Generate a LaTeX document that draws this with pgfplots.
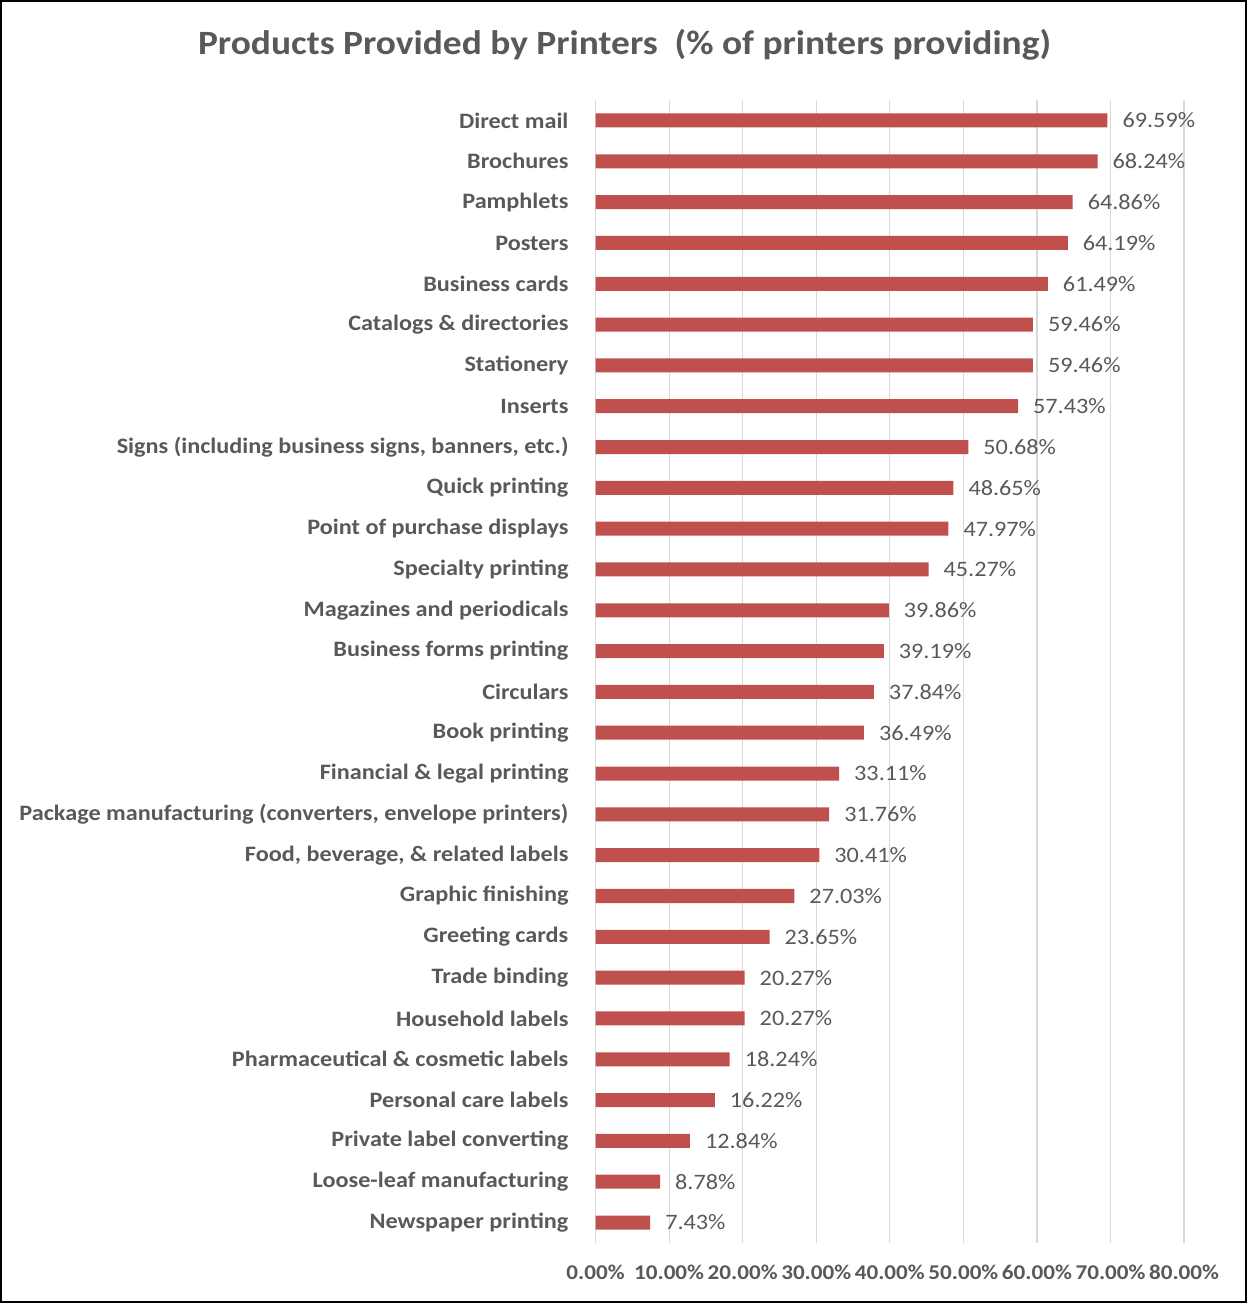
\documentclass[border=0pt]{standalone}
\usepackage{fontspec}
\setmainfont{Carlito}[FakeStretch=1.1]
\usepackage{pgfplots}
\pgfplotsset{compat=1.18}
\usetikzlibrary{calc}
\definecolor{barred}{HTML}{C0504D}
\definecolor{txtgray}{HTML}{595959}
\definecolor{gridgray}{HTML}{D9D9D9}
\begin{document}
\begin{tikzpicture}
\begin{axis}[
  scale only axis,
  width=294pt, height=570.9pt,
  xbar, bar width=7pt,
  xmin=0, xmax=80,
  ymin=-0.5, ymax=27.5,
  xtick={0,10,...,80},
  ytick={0,...,27},
  axis line style={draw=none},
  major tick length=0pt,
  xmajorgrids, grid style={gridgray, line width=0.6pt},
  /pgf/number format/assume math mode=true,
  xticklabel={\pgfmathprintnumber[fixed,fixed zerofill,precision=2]{\tick}\%},
  xticklabel style={font=\fontsize{10.5}{12}\selectfont\bfseries, text=txtgray, yshift=-7.5pt},
  yticklabel style={font=\fontsize{11}{12}\selectfont\bfseries, text=txtgray, xshift=-10pt},
  yticklabels={{Newspaper printing},{Loose-leaf manufacturing},{Private label converting},{Personal care labels},{Pharmaceutical \& cosmetic labels},{Household labels},{Trade binding},{Greeting cards},{Graphic finishing},{Food, beverage, \& related labels},{Package manufacturing (converters, envelope printers)},{Financial \& legal printing},{Book printing},{Circulars},{Business forms printing},{Magazines and periodicals},{Specialty printing},{Point of purchase displays},{Quick printing},{Signs (including business signs, banners, etc.)},{Inserts},{Stationery},{Catalogs \& directories},{Business cards},{Posters},{Pamphlets},{Brochures},{Direct mail}},
  nodes near coords={\pgfmathprintnumber[fixed,fixed zerofill,precision=2]{\pgfplotspointmeta}\%},
  nodes near coords style={font=\fontsize{11}{12}\selectfont, text=txtgray, anchor=west, xshift=4pt},
  clip=false,
]
\addplot[fill=barred, draw=none] coordinates {
(7.43,0) (8.78,1) (12.84,2) (16.22,3) (18.24,4) (20.27,5) (20.27,6) (23.65,7)
(27.03,8) (30.41,9) (31.76,10) (33.11,11) (36.49,12) (37.84,13) (39.19,14)
(39.86,15) (45.27,16) (47.97,17) (48.65,18) (50.68,19) (57.43,20) (59.46,21)
(59.46,22) (61.49,23) (64.19,24) (64.86,25) (68.24,26) (69.59,27)};
\end{axis}
\node[font=\fontsize{17}{20}\selectfont\bfseries, text=txtgray] at ($(current axis.north west)+(14.5pt,27.5pt)$) {Products Provided by Printers\ \ (\% of printers providing)};
\draw[black, line width=1pt] ($(current axis.south west)+(-297pt,-29.5pt)$) rectangle ($(current axis.north east)+(31pt,49.5pt)$);
\end{tikzpicture}
\end{document}
